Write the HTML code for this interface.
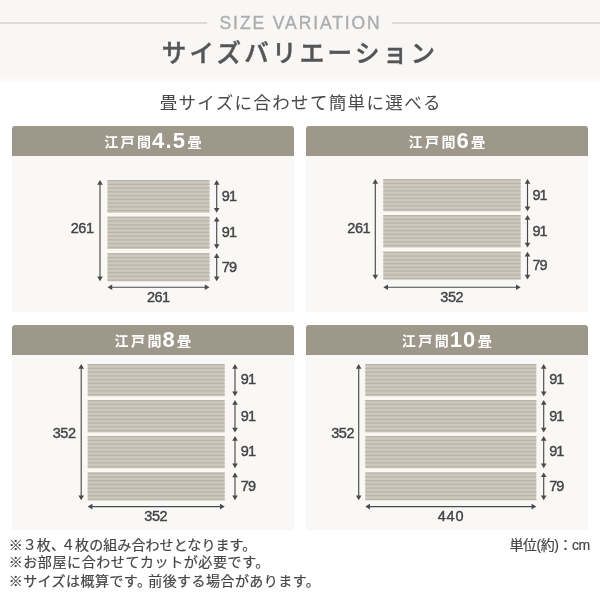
<!DOCTYPE html>
<html lang="ja">
<head>
<meta charset="utf-8">
<title>サイズバリエーション</title>
<style>
html,body{margin:0;padding:0}
body{width:600px;height:600px;position:relative;overflow:hidden;background:#fff;font-family:"Liberation Sans","Noto Sans CJK JP",sans-serif;color:#444}
.band{position:absolute;left:0;top:0;width:600px;height:77px;background:#f8f7f5}
.band:after{content:"";position:absolute;left:0;top:77px;width:600px;height:6px;background:linear-gradient(#f8f7f5,#fff)}
.ln{position:absolute;top:22px;height:1.8px;background:#dddbd7}
.en{position:absolute;left:0;width:600px;top:12px;text-align:center;font-size:17.5px;line-height:22px;letter-spacing:1.9px;text-indent:1.2px;color:#acacac;font-weight:400;-webkit-text-stroke:0.35px #acacac}
.h1{position:absolute;left:0;width:600px;top:34px;text-align:center;font-size:24.5px;line-height:40px;letter-spacing:3.25px;color:#555;font-weight:500;-webkit-text-stroke:0.45px #555;text-indent:0px}
.sub{position:absolute;left:0;width:600px;top:90px;text-align:center;font-size:17.5px;line-height:26px;letter-spacing:1.35px;color:#484848;font-weight:400;text-indent:1.5px}
.card{position:absolute;background:#f9f8f6;border-radius:3px 3px 0 0}
.chead{background:#9e988b;border-radius:3px 3px 0 0;color:#fff;text-align:center;font-weight:700;white-space:nowrap;line-height:29.6px;text-indent:2px}
.chead .k{font-size:14px;letter-spacing:2.4px;font-family:"Liberation Sans","Noto Sans CJK JP",sans-serif;vertical-align:baseline}
.chead .n{letter-spacing:1.2px;margin-left:-1.4px;margin-right:1.2px;vertical-align:baseline;position:relative;top:1.3px}
svg{position:absolute;left:0;top:0}
#w{position:absolute;left:0;top:0;width:600px;height:600px;will-change:transform}
text.d{font-family:"Liberation Sans",sans-serif;font-size:14.5px;fill:#444;stroke:#444;stroke-width:0.4px;letter-spacing:-0.45px}
.note{position:absolute;left:8.7px;font-size:14px;line-height:20px;color:#444;-webkit-text-stroke:0.2px #444;white-space:nowrap}
.unit{position:absolute;left:509.4px;top:535px;font-size:14px;line-height:20px;letter-spacing:-0.45px;color:#444;-webkit-text-stroke:0.2px #444;white-space:nowrap}
</style>
</head>
<body>
<div id="w">
<div class="band"></div>
<div class="ln" style="left:0;width:207px"></div>
<div class="ln" style="left:392px;width:208px"></div>
<div class="en">SIZE VARIATION</div>
<div class="h1">サイズバリエーション</div>
<div class="sub">畳サイズに合わせて簡単に選べる</div>
<div class="card" style="left:12px;top:126px;width:282px;height:185.6px">
<div class="chead" style="height:29.6px;line-height:28.8px"><span class="k">江戸間</span><span class="n" style="font-size:22px">4.5</span><span class="k">畳</span></div>
</div>
<div class="card" style="left:306px;top:126px;width:282px;height:185.6px">
<div class="chead" style="height:29.6px;line-height:28.8px"><span class="k">江戸間</span><span class="n" style="font-size:22px">6</span><span class="k">畳</span></div>
</div>
<div class="card" style="left:12px;top:325px;width:282px;height:204.8px">
<div class="chead" style="height:29.6px;line-height:27px"><span class="k">江戸間</span><span class="n" style="font-size:22px">8</span><span class="k">畳</span></div>
</div>
<div class="card" style="left:306px;top:325px;width:282px;height:204.8px">
<div class="chead" style="height:29.6px;line-height:27px"><span class="k">江戸間</span><span class="n" style="font-size:22px">10</span><span class="k">畳</span></div>
</div>
<svg width="600" height="600" viewBox="0 0 600 600">
<rect x="107.5" y="180" width="102.0" height="101.3" fill="#fbf8f1"/>
<rect x="107.5" y="180" width="102.0" height="32.7" fill="#cdc8bd"/>
<path d="M107.5 180.65H209.5M107.5 184.40H209.5M107.5 188.15H209.5M107.5 191.90H209.5M107.5 195.65H209.5M107.5 199.40H209.5M107.5 203.15H209.5M107.5 206.90H209.5M107.5 210.65H209.5" stroke="#bab3a8" stroke-width="1.3" fill="none"/>
<rect x="107.5" y="216.7" width="102.0" height="32.3" fill="#cdc8bd"/>
<path d="M107.5 217.35H209.5M107.5 221.10H209.5M107.5 224.85H209.5M107.5 228.60H209.5M107.5 232.35H209.5M107.5 236.10H209.5M107.5 239.85H209.5M107.5 243.60H209.5M107.5 247.35H209.5" stroke="#bab3a8" stroke-width="1.3" fill="none"/>
<rect x="107.5" y="253.3" width="102.0" height="28.0" fill="#cdc8bd"/>
<path d="M107.5 253.95H209.5M107.5 257.70H209.5M107.5 261.45H209.5M107.5 265.20H209.5M107.5 268.95H209.5M107.5 272.70H209.5M107.5 276.45H209.5M107.5 280.20H209.5" stroke="#bab3a8" stroke-width="1.3" fill="none"/>
<path d="M100 182V279.3" stroke="#4a4a4a" stroke-width="1.15" fill="none"/><path d="M100 180L97.2 184.7H102.8Z M100 281.3L97.2 276.6H102.8Z" fill="#4a4a4a"/>
<path d="M216.7 182V210.7" stroke="#4a4a4a" stroke-width="1.15" fill="none"/><path d="M216.7 180L213.9 184.7H219.5Z M216.7 212.7L213.9 208.0H219.5Z" fill="#4a4a4a"/>
<path d="M216.7 218.7V247" stroke="#4a4a4a" stroke-width="1.15" fill="none"/><path d="M216.7 216.7L213.9 221.4H219.5Z M216.7 249L213.9 244.3H219.5Z" fill="#4a4a4a"/>
<path d="M216.7 255.3V279.3" stroke="#4a4a4a" stroke-width="1.15" fill="none"/><path d="M216.7 253.3L213.9 258.0H219.5Z M216.7 281.3L213.9 276.6H219.5Z" fill="#4a4a4a"/>
<path d="M109.5 287.2H207.5" stroke="#4a4a4a" stroke-width="1.15" fill="none"/><path d="M107.5 287.2L112.2 284.4V290.0Z M209.5 287.2L204.8 284.4V290.0Z" fill="#4a4a4a"/>
<text class="d" x="93.6" y="233.4" text-anchor="end">261</text>
<text class="d" style="letter-spacing:-0.95px" x="221.8" y="200.7">91</text>
<text class="d" style="letter-spacing:-0.95px" x="221.8" y="237.2">91</text>
<text class="d" style="letter-spacing:-0.95px" x="221.8" y="271.6">79</text>
<text class="d" x="158.3" y="302" text-anchor="middle">261</text>
<rect x="383.3" y="179" width="137.4" height="100.5" fill="#fbf8f1"/>
<rect x="383.3" y="179" width="137.4" height="32.3" fill="#cdc8bd"/>
<path d="M383.3 179.65H520.7M383.3 183.40H520.7M383.3 187.15H520.7M383.3 190.90H520.7M383.3 194.65H520.7M383.3 198.40H520.7M383.3 202.15H520.7M383.3 205.90H520.7M383.3 209.65H520.7" stroke="#bab3a8" stroke-width="1.3" fill="none"/>
<rect x="383.3" y="215" width="137.4" height="32.5" fill="#cdc8bd"/>
<path d="M383.3 215.65H520.7M383.3 219.40H520.7M383.3 223.15H520.7M383.3 226.90H520.7M383.3 230.65H520.7M383.3 234.40H520.7M383.3 238.15H520.7M383.3 241.90H520.7M383.3 245.65H520.7" stroke="#bab3a8" stroke-width="1.3" fill="none"/>
<rect x="383.3" y="251.7" width="137.4" height="27.8" fill="#cdc8bd"/>
<path d="M383.3 252.35H520.7M383.3 256.10H520.7M383.3 259.85H520.7M383.3 263.60H520.7M383.3 267.35H520.7M383.3 271.10H520.7M383.3 274.85H520.7M383.3 278.60H520.7" stroke="#bab3a8" stroke-width="1.3" fill="none"/>
<path d="M375.3 181V277.5" stroke="#4a4a4a" stroke-width="1.15" fill="none"/><path d="M375.3 179L372.5 183.7H378.1Z M375.3 279.5L372.5 274.8H378.1Z" fill="#4a4a4a"/>
<path d="M527.5 181V209.3" stroke="#4a4a4a" stroke-width="1.15" fill="none"/><path d="M527.5 179L524.7 183.7H530.3Z M527.5 211.3L524.7 206.6H530.3Z" fill="#4a4a4a"/>
<path d="M527.5 217V245.5" stroke="#4a4a4a" stroke-width="1.15" fill="none"/><path d="M527.5 215L524.7 219.7H530.3Z M527.5 247.5L524.7 242.8H530.3Z" fill="#4a4a4a"/>
<path d="M527.5 253.7V277.5" stroke="#4a4a4a" stroke-width="1.15" fill="none"/><path d="M527.5 251.7L524.7 256.4H530.3Z M527.5 279.5L524.7 274.8H530.3Z" fill="#4a4a4a"/>
<path d="M385.3 287.2H518.7" stroke="#4a4a4a" stroke-width="1.15" fill="none"/><path d="M383.3 287.2L388.0 284.4V290.0Z M520.7 287.2L516.0 284.4V290.0Z" fill="#4a4a4a"/>
<text class="d" x="370.2" y="233.1" text-anchor="end">261</text>
<text class="d" style="letter-spacing:-0.95px" x="532.5" y="199.5">91</text>
<text class="d" style="letter-spacing:-0.95px" x="532.5" y="235.6">91</text>
<text class="d" style="letter-spacing:-0.95px" x="532.5" y="269.9">79</text>
<text class="d" x="451.7" y="302" text-anchor="middle">352</text>
<rect x="87.7" y="364" width="137.0" height="136.3" fill="#fbf8f1"/>
<rect x="87.7" y="364" width="137.0" height="32.2" fill="#cdc8bd"/>
<path d="M87.7 364.65H224.7M87.7 368.40H224.7M87.7 372.15H224.7M87.7 375.90H224.7M87.7 379.65H224.7M87.7 383.40H224.7M87.7 387.15H224.7M87.7 390.90H224.7M87.7 394.65H224.7" stroke="#bab3a8" stroke-width="1.3" fill="none"/>
<rect x="87.7" y="400" width="137.0" height="32.4" fill="#cdc8bd"/>
<path d="M87.7 400.65H224.7M87.7 404.40H224.7M87.7 408.15H224.7M87.7 411.90H224.7M87.7 415.65H224.7M87.7 419.40H224.7M87.7 423.15H224.7M87.7 426.90H224.7M87.7 430.65H224.7" stroke="#bab3a8" stroke-width="1.3" fill="none"/>
<rect x="87.7" y="436" width="137.0" height="32.3" fill="#cdc8bd"/>
<path d="M87.7 436.65H224.7M87.7 440.40H224.7M87.7 444.15H224.7M87.7 447.90H224.7M87.7 451.65H224.7M87.7 455.40H224.7M87.7 459.15H224.7M87.7 462.90H224.7M87.7 466.65H224.7" stroke="#bab3a8" stroke-width="1.3" fill="none"/>
<rect x="87.7" y="472.6" width="137.0" height="27.7" fill="#cdc8bd"/>
<path d="M87.7 473.25H224.7M87.7 477.00H224.7M87.7 480.75H224.7M87.7 484.50H224.7M87.7 488.25H224.7M87.7 492.00H224.7M87.7 495.75H224.7M87.7 499.50H224.7" stroke="#bab3a8" stroke-width="1.3" fill="none"/>
<path d="M81.2 366V498.3" stroke="#4a4a4a" stroke-width="1.15" fill="none"/><path d="M81.2 364L78.4 368.7H84.0Z M81.2 500.3L78.4 495.6H84.0Z" fill="#4a4a4a"/>
<path d="M235 366V394.2" stroke="#4a4a4a" stroke-width="1.15" fill="none"/><path d="M235 364L232.2 368.7H237.8Z M235 396.2L232.2 391.5H237.8Z" fill="#4a4a4a"/>
<path d="M235 402V430.4" stroke="#4a4a4a" stroke-width="1.15" fill="none"/><path d="M235 400L232.2 404.7H237.8Z M235 432.4L232.2 427.7H237.8Z" fill="#4a4a4a"/>
<path d="M235 438V466.3" stroke="#4a4a4a" stroke-width="1.15" fill="none"/><path d="M235 436L232.2 440.7H237.8Z M235 468.3L232.2 463.6H237.8Z" fill="#4a4a4a"/>
<path d="M235 474.6V498.3" stroke="#4a4a4a" stroke-width="1.15" fill="none"/><path d="M235 472.6L232.2 477.3H237.8Z M235 500.3L232.2 495.6H237.8Z" fill="#4a4a4a"/>
<path d="M89.7 506.6H222.7" stroke="#4a4a4a" stroke-width="1.15" fill="none"/><path d="M87.7 506.6L92.4 503.8V509.4Z M224.7 506.6L220.0 503.8V509.4Z" fill="#4a4a4a"/>
<text class="d" x="75.5" y="438.1" text-anchor="end">352</text>
<text class="d" style="letter-spacing:-0.95px" x="240.8" y="384.4">91</text>
<text class="d" style="letter-spacing:-0.95px" x="240.8" y="420.5">91</text>
<text class="d" style="letter-spacing:-0.95px" x="240.8" y="456.4">91</text>
<text class="d" style="letter-spacing:-0.95px" x="240.8" y="490.8">79</text>
<text class="d" x="155.7" y="521.4" text-anchor="middle">352</text>
<rect x="365.3" y="364" width="171" height="136.3" fill="#fbf8f1"/>
<rect x="365.3" y="364" width="171" height="32.2" fill="#cdc8bd"/>
<path d="M365.3 364.65H536.3M365.3 368.40H536.3M365.3 372.15H536.3M365.3 375.90H536.3M365.3 379.65H536.3M365.3 383.40H536.3M365.3 387.15H536.3M365.3 390.90H536.3M365.3 394.65H536.3" stroke="#bab3a8" stroke-width="1.3" fill="none"/>
<rect x="365.3" y="400" width="171" height="32.4" fill="#cdc8bd"/>
<path d="M365.3 400.65H536.3M365.3 404.40H536.3M365.3 408.15H536.3M365.3 411.90H536.3M365.3 415.65H536.3M365.3 419.40H536.3M365.3 423.15H536.3M365.3 426.90H536.3M365.3 430.65H536.3" stroke="#bab3a8" stroke-width="1.3" fill="none"/>
<rect x="365.3" y="436" width="171" height="32.3" fill="#cdc8bd"/>
<path d="M365.3 436.65H536.3M365.3 440.40H536.3M365.3 444.15H536.3M365.3 447.90H536.3M365.3 451.65H536.3M365.3 455.40H536.3M365.3 459.15H536.3M365.3 462.90H536.3M365.3 466.65H536.3" stroke="#bab3a8" stroke-width="1.3" fill="none"/>
<rect x="365.3" y="472.4" width="171" height="27.9" fill="#cdc8bd"/>
<path d="M365.3 473.05H536.3M365.3 476.80H536.3M365.3 480.55H536.3M365.3 484.30H536.3M365.3 488.05H536.3M365.3 491.80H536.3M365.3 495.55H536.3M365.3 499.30H536.3" stroke="#bab3a8" stroke-width="1.3" fill="none"/>
<path d="M358.7 366V498.3" stroke="#4a4a4a" stroke-width="1.15" fill="none"/><path d="M358.7 364L355.9 368.7H361.5Z M358.7 500.3L355.9 495.6H361.5Z" fill="#4a4a4a"/>
<path d="M543.7 366V394.2" stroke="#4a4a4a" stroke-width="1.15" fill="none"/><path d="M543.7 364L540.9 368.7H546.5Z M543.7 396.2L540.9 391.5H546.5Z" fill="#4a4a4a"/>
<path d="M543.7 402V430.4" stroke="#4a4a4a" stroke-width="1.15" fill="none"/><path d="M543.7 400L540.9 404.7H546.5Z M543.7 432.4L540.9 427.7H546.5Z" fill="#4a4a4a"/>
<path d="M543.7 438V466.3" stroke="#4a4a4a" stroke-width="1.15" fill="none"/><path d="M543.7 436L540.9 440.7H546.5Z M543.7 468.3L540.9 463.6H546.5Z" fill="#4a4a4a"/>
<path d="M543.7 474.4V498.3" stroke="#4a4a4a" stroke-width="1.15" fill="none"/><path d="M543.7 472.4L540.9 477.1H546.5Z M543.7 500.3L540.9 495.6H546.5Z" fill="#4a4a4a"/>
<path d="M367.3 506.6H534.3" stroke="#4a4a4a" stroke-width="1.15" fill="none"/><path d="M365.3 506.6L370.0 503.8V509.4Z M536.3 506.6L531.6 503.8V509.4Z" fill="#4a4a4a"/>
<text class="d" x="354" y="438.1" text-anchor="end">352</text>
<text class="d" style="letter-spacing:-0.95px" x="549.2" y="384.4">91</text>
<text class="d" style="letter-spacing:-0.95px" x="549.2" y="420.5">91</text>
<text class="d" style="letter-spacing:-0.95px" x="549.2" y="456.4">91</text>
<text class="d" style="letter-spacing:-0.95px" x="549.2" y="490.7">79</text>
<text class="d" style="letter-spacing:0.8px" x="451" y="521.4" text-anchor="middle">440</text>
</svg>
<div class="note" style="top:534.7px;letter-spacing:0.08px">※３枚<span style="margin-right:-4px">、</span>４枚の組み合わせとなります。</div>
<div class="note" style="top:552px;letter-spacing:0.59px">※お部屋に合わせてカットが必要です。</div>
<div class="note" style="top:571px;letter-spacing:0.45px">※サイズは概算です<span style="margin-right:-3.2px">。</span>前後する場合があります。</div>
<div class="unit">単位(約)：cm</div>
</div>
</body>
</html>
